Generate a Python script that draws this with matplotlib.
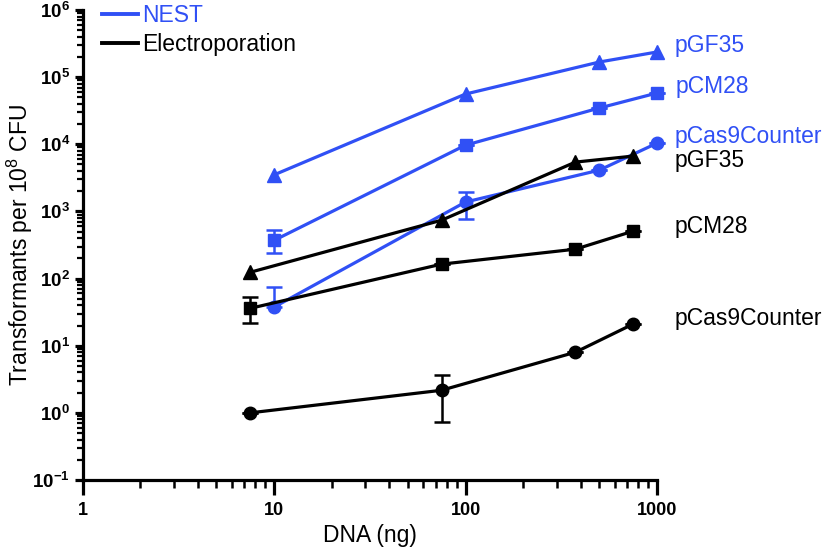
import matplotlib
matplotlib.use("Agg")
import matplotlib.pyplot as plt
from matplotlib.lines import Line2D
from matplotlib.ticker import LogLocator, NullFormatter

plt.rcParams['font.family'] = ['Liberation Sans', 'DejaVu Sans']
plt.rcParams['mathtext.fontset'] = 'custom'
plt.rcParams['mathtext.rm'] = 'Liberation Sans'
plt.rcParams['mathtext.bf'] = 'Liberation Sans:bold'
plt.rcParams['mathtext.default'] = 'regular'

BLUE = '#3050F5'
BLACK = '#000000'

# DNA amounts (ng)
nest_x = [10, 100, 500, 1000]
elec_x = [7.5, 75, 375, 750]

# NEST series
nest_pgf35 = [3500, 56000, 168000, 237000]
nest_pcm28 = [370, 9700, 34700, 58000]
nest_pcm28_lo = [240, 9700, 34700, 58000]
nest_pcm28_hi = [525, 9700, 34700, 58000]
nest_pcas9 = [37.5, 1380, 4120, 10400]
nest_pcas9_lo = [37.5, 770, 4120, 10400]
nest_pcas9_hi = [74, 1940, 4120, 10400]

# Electroporation series
elec_pgf35 = [124, 740, 5430, 6670]
elec_pcm28 = [36, 164, 274, 508]
elec_pcm28_lo = [21.6, 164, 274, 508]
elec_pcm28_hi = [53, 164, 274, 508]
elec_pcas9 = [1.0, 2.17, 8.0, 21]
elec_pcas9_lo = [1.0, 0.72, 8.0, 21]
elec_pcas9_hi = [1.0, 3.63, 8.0, 21]

series_labels = ['pGF35', 'pCM28', 'pCas9Counter']
legend_labels = ['NEST', 'Electroporation']

ytick_vals = [1e-1, 1e0, 1e1, 1e2, 1e3, 1e4, 1e5, 1e6]
ytick_labels = [r'$\mathbf{10^{-1}}$', r'$\mathbf{10^{0}}$', r'$\mathbf{10^{1}}$',
                r'$\mathbf{10^{2}}$', r'$\mathbf{10^{3}}$', r'$\mathbf{10^{4}}$',
                r'$\mathbf{10^{5}}$', r'$\mathbf{10^{6}}$']
xtick_vals = [1, 10, 100, 1000]
xtick_labels = ['1', '10', '100', '1000']

fig = plt.figure(figsize=(8.25, 5.49), dpi=100)
ax = fig.add_axes([82.5/825, 1-480/549, 574.5/825, 470/549])
ax.set_xscale('log')
ax.set_yscale('log')
ax.set_xlim(1, 1000)
ax.set_ylim(1e-1, 1e6)

LW = 2.3
MS = 9

def plot_series(x, y, lo, hi, color, marker, ms):
    ax.plot(x, y, color=color, lw=LW, marker=marker, ms=ms, clip_on=False, zorder=3)
    if lo is not None:
        yerr = [[v - l for v, l in zip(y, lo)], [h - v for v, h in zip(y, hi)]]
        ax.errorbar(x, y, yerr=yerr, fmt='none', ecolor=color, elinewidth=1.8,
                    capsize=5.5, capthick=1.8, zorder=2, clip_on=False)

plot_series(nest_x, nest_pgf35, None, None, BLUE, '^', MS + 0.5)
plot_series(nest_x, nest_pcm28, nest_pcm28_lo, nest_pcm28_hi, BLUE, 's', MS - 0.5)
plot_series(nest_x, nest_pcas9, nest_pcas9_lo, nest_pcas9_hi, BLUE, 'o', MS)
plot_series(elec_x, elec_pgf35, None, None, BLACK, '^', MS + 0.5)
plot_series(elec_x, elec_pcm28, elec_pcm28_lo, elec_pcm28_hi, BLACK, 's', MS - 0.5)
plot_series(elec_x, elec_pcas9, elec_pcas9_lo, elec_pcas9_hi, BLACK, 'o', MS)

# series labels at end of lines
FS = 16.5
nest_last = [nest_pgf35[-1], nest_pcm28[-1], nest_pcas9[-1]]
elec_last = [elec_pgf35[-1], elec_pcm28[-1], elec_pcas9[-1]]
nest_off = [(18, 0), (19, 0), (18, 0)]
elec_off = [(41, -11), (41, -2), (41, -1)]
for lab, yv, off in zip(series_labels, nest_last, nest_off):
    ax.annotate(lab, (nest_x[-1], yv), xytext=off, textcoords='offset pixels',
                color=BLUE, fontsize=FS, ha='left', va='baseline', annotation_clip=False)
for lab, yv, off in zip(series_labels, elec_last, elec_off):
    ax.annotate(lab, (elec_x[-1], yv), xytext=off, textcoords='offset pixels',
                color=BLACK, fontsize=FS, ha='left', va='baseline', annotation_clip=False)

# axes styling
for s in ['top', 'right']:
    ax.spines[s].set_visible(False)
for s in ['left', 'bottom']:
    ax.spines[s].set_linewidth(2.3)

ax.set_yticks(ytick_vals)
ax.set_yticklabels(ytick_labels)
ax.set_xticks(xtick_vals)
ax.set_xticklabels(xtick_labels, fontweight='bold')
ax.xaxis.set_minor_locator(LogLocator(base=10, subs=range(2, 10)))
ax.yaxis.set_minor_locator(LogLocator(base=10, subs=range(2, 10), numticks=20))
ax.xaxis.set_minor_formatter(NullFormatter())
ax.yaxis.set_minor_formatter(NullFormatter())

ax.tick_params(axis='y', which='major', length=6, width=2.3, labelsize=13.5, pad=3)
ax.tick_params(axis='y', which='minor', length=4, width=1.6)
ax.tick_params(axis='x', which='major', length=10.5, width=2.3, labelsize=13, pad=5)
ax.tick_params(axis='x', which='minor', length=6, width=1.8)

ax.set_xlabel('DNA (ng)', fontsize=FS)
ax.set_ylabel(r'Transformants per 10$^8$ CFU', fontsize=FS)
ax.xaxis.set_label_coords(0.5, (480-524)/470)
ax.yaxis.set_label_coords((35-82.5)/574.5, 0.5)

handles = [Line2D([0], [0], color=BLUE, lw=LW + 0.5),
           Line2D([0], [0], color=BLACK, lw=LW + 0.5)]
leg = ax.legend(handles, legend_labels, loc='upper left',
                bbox_to_anchor=(102/825, 1 - 4/549), bbox_transform=fig.transFigure,
                frameon=False, fontsize=FS, handlelength=1.55, handletextpad=0.22,
                borderpad=0, borderaxespad=0, labelspacing=0.25)
leg.get_texts()[0].set_color(BLUE)

fig.savefig('out.png', dpi=100)
